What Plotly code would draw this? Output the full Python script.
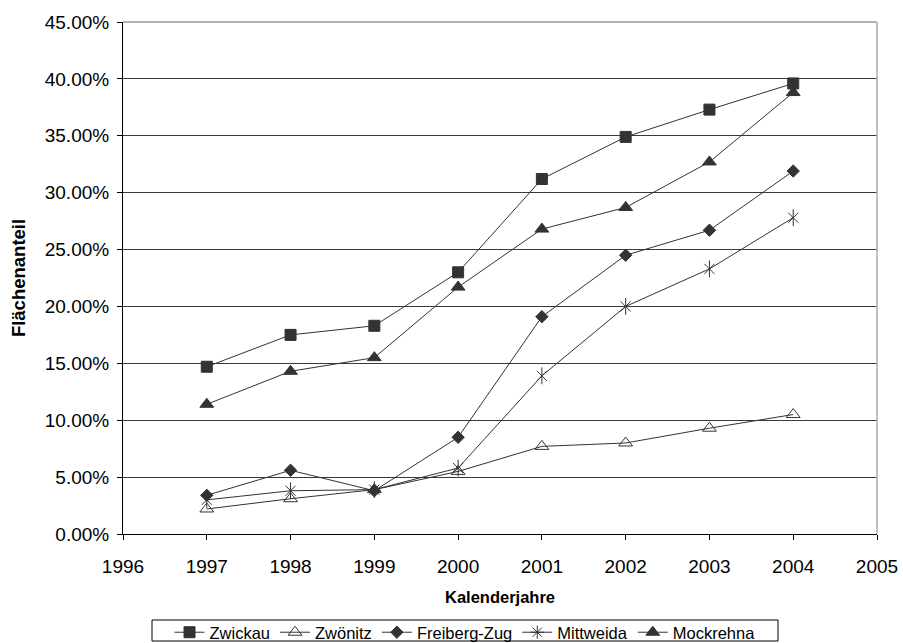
import plotly.graph_objects as go

years = [1997, 1998, 1999, 2000, 2001, 2002, 2003, 2004]

zwickau = [14.7, 17.5, 18.3, 23.0, 31.2, 34.9, 37.3, 39.6]
zwoenitz = [2.2, 3.1, 3.9, 5.5, 7.7, 8.0, 9.3, 10.5]
freiberg_zug = [3.4, 5.6, 3.8, 8.5, 19.1, 24.5, 26.7, 31.9]
mittweida = [3.0, 3.8, 3.9, 5.8, 13.9, 20.0, 23.3, 27.8]
mockrehna = [11.4, 14.3, 15.5, 21.7, 26.8, 28.7, 32.7, 38.8]

ink = "#333333"
font_family = "Liberation Sans, Arial, sans-serif"

W, H = 903, 643
L, R, T, B = 123, 26, 22, 109
plot_w, plot_h = W - L - R, H - T - B


def px_x(x):
    return (x - L) / plot_w


def px_y(y):
    return (H - B - y) / plot_h


def line_trace(name, vals, symbol, size, showlegend=True, group=None):
    return go.Scatter(
        x=years, y=[v / 100 for v in vals], name=name,
        mode="lines+markers", showlegend=showlegend, legendgroup=group,
        line=dict(color=ink, width=1),
        marker=dict(symbol=symbol, size=size, color=ink,
                    line=dict(color=ink, width=1)),
    )


fig = go.Figure()
fig.add_trace(line_trace("Zwickau", zwickau, "square", 11))
fig.add_trace(line_trace("Zwönitz", zwoenitz, "triangle-up-open", 12))
fig.add_trace(line_trace("Freiberg-Zug", freiberg_zug, "diamond", 9.5))
# Mittweida: six-armed star built from an x and a vertical bar
fig.add_trace(go.Scatter(
    x=[None], y=[None], name="Mittweida", mode="lines+markers",
    legendgroup="mw", line=dict(color=ink, width=1),
    marker=dict(symbol="asterisk-open", size=11, color=ink,
                line=dict(color=ink, width=1)),
))
fig.add_trace(line_trace("Mittweida", mittweida, "x-thin-open", 10,
                         showlegend=False, group="mw"))
fig.add_trace(go.Scatter(
    x=years, y=[v / 100 for v in mittweida], mode="markers",
    showlegend=False, legendgroup="mw", name="Mittweida",
    marker=dict(symbol="line-ns-open", size=12, color=ink,
                line=dict(color=ink, width=1)),
))
fig.add_trace(line_trace("Mockrehna", mockrehna, "triangle-up", 12))

fig.update_layout(
    width=W, height=H,
    margin=dict(l=L, r=R, t=T, b=B, autoexpand=False),
    paper_bgcolor="white", plot_bgcolor="white",
    font=dict(family=font_family, color="black", size=16),
    showlegend=True,
    legend=dict(
        orientation="h", x=px_x(465), xanchor="center",
        y=px_y(615), yanchor="top",
        borderwidth=0, bgcolor="rgba(0,0,0,0)", font=dict(size=16.5),
        itemwidth=30, tracegroupgap=0,
    ),
    xaxis=dict(
        range=[1996, 2005], tickmode="array",
        tickvals=list(range(1996, 2006)),
        ticks="outside", ticklen=5, tickcolor="black",
        showline=True, linecolor="black", linewidth=1,
        showgrid=False, zeroline=False,
        tickfont=dict(size=19), ticklabelstandoff=10,
        title=dict(text="<b>Kalenderjahre</b>", font=dict(size=16.5), standoff=15),
    ),
    yaxis=dict(
        range=[0, 0.45], tickvals=[i * 0.05 for i in range(10)],
        tickformat=".2%",
        ticks="outside", ticklen=5, tickcolor="black",
        showline=True, linecolor="black", linewidth=1,
        showgrid=True, gridcolor="#3a3a3a", gridwidth=1,
        zeroline=False, tickfont=dict(size=19), ticklabelstandoff=4,
        title=dict(text="<b>Flächenanteil</b>", font=dict(size=18.5), standoff=14),
    ),
)

# light grey frame along the top and right of the plot area
fig.add_shape(type="line", xref="paper", yref="paper", x0=0, x1=1, y0=1, y1=1,
              line=dict(color="#999999", width=1.5))
fig.add_shape(type="line", xref="paper", yref="paper", x0=1, x1=1, y0=0, y1=1,
              line=dict(color="#aaaaaa", width=1.5))
# legend frame
fig.add_shape(type="rect", xref="paper", yref="paper",
              x0=px_x(152), x1=px_x(778), y0=px_y(641), y1=px_y(620),
              line=dict(color="black", width=1), fillcolor="rgba(0,0,0,0)")

fig.write_html("out.html")
